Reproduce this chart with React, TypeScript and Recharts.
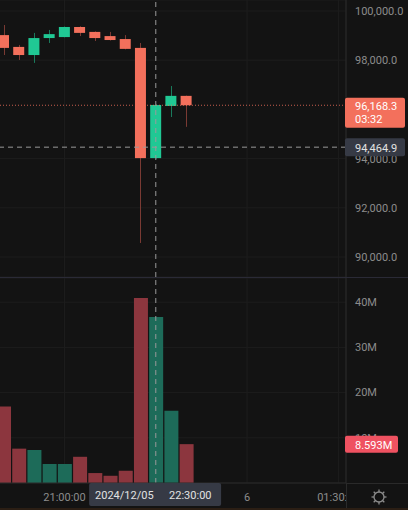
import React from 'react';
import { ComposedChart, Bar, Cell, XAxis, YAxis, CartesianGrid, ReferenceLine } from 'recharts';

// 15 minute candles, 20:00 -> 23:00, then empty slots up to 01:30
const times = [
  '20:00:00', '20:15:00', '20:30:00', '20:45:00', '21:00:00', '21:15:00', '21:30:00', '21:45:00',
  '22:00:00', '22:15:00', '22:30:00', '22:45:00', '23:00:00', '23:15:00', '23:30:00', '23:45:00',
  '00:00:00', '00:15:00', '00:30:00', '00:45:00', '01:00:00', '01:15:00', '01:30:00',
];
const opens = [99020, 98540, 98210, 98900, 98940, 99350, 99150, 98980, 98860, 98500, 94020, 96140, 96550];
const highs = [99430, 98620, 99110, 99230, 99370, 99380, 99170, 99150, 99020, 98700, 96200, 96950, 96560];
const lows = [98210, 98010, 97890, 98700, 98930, 98980, 98780, 98800, 98440, 90570, 94000, 95690, 95290];
const closes = [98500, 98210, 98900, 99060, 99350, 99110, 98900, 98820, 98460, 94020, 96180, 96550, 96168.3];
const volumes = [16.9e6, 7.6e6, 7.3e6, 4.2e6, 4.2e6, 5.8e6, 2.2e6, 1.6e6, 2.7e6, 40.9e6, 36.7e6, 16.0e6, 8.593e6];

// 96,000.0 sits under the last price tag in the reference, so it is left out
const priceTicks = [90000, 92000, 94000, 98000, 100000];
const volumeTicks = [10e6, 20e6, 30e6, 40e6];
const timeTicks = ['21:00:00', '00:00:00', '01:30:00'];

const priceDomain = [89187, 100447];
const volumeDomain = [0, 45.35e6];

const lastPrice = 96168.3;
const crossPrice = 94464.9;
const crossTime = '22:30:00';
const crossDate = '2024/12/05';
const countdown = '03:32';
const lastVolume = 8.593e6;

const BG = '#131313';
const UP = '#20c894';
const DOWN = '#f3705c';
const WICK_UP = '#1a7a5c';
const WICK_DOWN = '#7a3a33';
const VOL_UP = '#1d6b59';
const VOL_DOWN = '#8c363e';
const GRID = '#1d1d1d';
const AXIS = '#2a2a2a';
const TEXT = '#8c8c8c';
const FONT = 'Roboto, "Noto Sans", sans-serif';

const data = times.map((t, i) => ({
  t,
  open: opens[i],
  high: highs[i],
  low: lows[i],
  close: closes[i],
  volume: volumes[i],
}));

const fmtPrice = (v: number) => v.toLocaleString('en-US', { minimumFractionDigits: 1, maximumFractionDigits: 1 });

function Candle(props: any) {
  const { x, y, width, height, payload } = props;
  if (!payload || payload.open == null || height == null) return null;
  const { open, close, high, low } = payload;
  const top = Math.min(y, y + height);
  const h = Math.abs(height);
  const k = h / (high - low);
  const up = close >= open;
  const bodyTop = top + (high - Math.max(open, close)) * k;
  const bodyBot = top + (high - Math.min(open, close)) * k;
  const cx = Math.round(x + width / 2) + 0.5;
  return (
    <g>
      <line x1={cx} x2={cx} y1={top} y2={top + h} stroke={up ? WICK_UP : WICK_DOWN} strokeWidth={1} />
      <rect x={x} y={bodyTop} width={width} height={Math.max(1, bodyBot - bodyTop)} fill={up ? UP : DOWN} />
    </g>
  );
}

function AxisTag(props: any) {
  const { viewBox, fill, color, lines, w, h, offsetTop } = props;
  if (!viewBox) return null;
  const ax = viewBox.x + viewBox.width;
  const ly = viewBox.y;
  const top = ly - offsetTop;
  return (
    <g>
      <rect x={ax - 1} y={top} width={w} height={h} rx={2} fill={fill} />
      {lines.map((s: string, i: number) => (
        <text key={i} x={ax + 9} y={ly + 1 + i * 13} fill={color} fontSize={11} fontFamily={FONT} dominantBaseline="central">
          {s}
        </text>
      ))}
    </g>
  );
}

function TimeTag(props: any) {
  const { viewBox } = props;
  if (!viewBox) return null;
  const cx = viewBox.x;
  const bottom = viewBox.y + viewBox.height;
  return (
    <g>
      <rect x={cx - 66} y={bottom} width={132} height={23} rx={2} fill="#363a45" />
      <text x={cx - 60} y={bottom + 12} fill="#e2e2e2" fontSize={11} fontFamily={FONT} dominantBaseline="central">
        {crossDate}
      </text>
      <text x={cx + 14} y={bottom + 12} fill="#e2e2e2" fontSize={11} fontFamily={FONT} dominantBaseline="central">
        {crossTime}
      </text>
    </g>
  );
}

export default function App() {
  const margin = { top: 0, right: 0, bottom: 0, left: 0 };
  return (
    <div style={{ position: 'absolute', left: 0, top: 0, width: 408, height: 510, background: BG, overflow: 'hidden', fontFamily: FONT }}>
      {/* price pane */}
      <div style={{ position: 'absolute', left: -4, top: 0 }}>
        <ComposedChart width={412} height={277} data={data} margin={margin}>
          <CartesianGrid stroke={GRID} />
          <XAxis dataKey="t" hide ticks={timeTicks} />
          <YAxis
            orientation="right"
            width={62}
            domain={priceDomain}
            allowDataOverflow
            ticks={priceTicks}
            tickFormatter={fmtPrice}
            tick={{ fill: TEXT, fontSize: 11, fontFamily: FONT, textAnchor: 'start' }}
            tickLine={false}
            tickMargin={3}
            axisLine={{ stroke: AXIS }}
          />
          <Bar
            dataKey={(d: any) => (d.open == null ? null : [d.low, d.high])}
            barSize={11}
            shape={Candle}
            isAnimationActive={false}
          />
          <ReferenceLine y={lastPrice} stroke={DOWN} strokeOpacity={0.8} strokeDasharray="1 2" />
          <ReferenceLine y={crossPrice} stroke="#9a9a9a" strokeDasharray="5 4" />
          <ReferenceLine x={crossTime} stroke="#9a9a9a" strokeDasharray="5 4" />
        </ComposedChart>
      </div>
      {/* price tags on top of the axis labels */}
      <div style={{ position: 'absolute', left: -4, top: 0 }}>
        <ComposedChart width={412} height={277} data={data} margin={margin}>
          <XAxis dataKey="t" hide />
          <YAxis orientation="right" width={62} domain={priceDomain} allowDataOverflow tick={false} tickLine={false} axisLine={false} />
          <ReferenceLine
            y={lastPrice}
            stroke="none"
            strokeOpacity={0}
            label={<AxisTag fill={DOWN} color="#ffffff" lines={[fmtPrice(lastPrice), countdown]} w={60} h={30} offsetTop={7.5} />}
          />
          <ReferenceLine
            y={crossPrice}
            stroke="none"
            strokeOpacity={0}
            label={<AxisTag fill="#363a45" color="#e2e2e2" lines={[fmtPrice(crossPrice)]} w={60} h={18} offsetTop={9} />}
          />
        </ComposedChart>
      </div>
      <div style={{ position: 'absolute', left: 0, top: 277, width: 408, height: 1, background: '#2a2a36' }} />
      {/* volume pane */}
      <div style={{ position: 'absolute', left: -4, top: 278 }}>
        <ComposedChart width={412} height={232} data={data} margin={margin}>
          <CartesianGrid stroke={GRID} />
          <XAxis
            dataKey="t"
            height={27}
            ticks={timeTicks}
            interval={0}
            tickFormatter={(t: string) => (t === '00:00:00' ? '6' : t)}
            tick={{ fill: TEXT, fontSize: 11, fontFamily: FONT }}
            tickLine={false}
            tickMargin={4}
            axisLine={{ stroke: AXIS }}
          />
          <YAxis
            orientation="right"
            width={62}
            domain={volumeDomain}
            allowDataOverflow
            ticks={volumeTicks}
            tickFormatter={(v: number) => `${v / 1e6}M`}
            tick={{ fill: TEXT, fontSize: 11, fontFamily: FONT, textAnchor: 'start' }}
            tickLine={false}
            tickMargin={3}
            axisLine={{ stroke: AXIS }}
          />
          <Bar dataKey="volume" barSize={14} isAnimationActive={false}>
            {data.map((d, i) => (
              <Cell key={i} fill={d.close != null && d.close >= d.open ? VOL_UP : VOL_DOWN} />
            ))}
          </Bar>
          <ReferenceLine x={crossTime} stroke="#9a9a9a" strokeDasharray="5 4" />
        </ComposedChart>
      </div>
      {/* volume and time tags on top */}
      <div style={{ position: 'absolute', left: -4, top: 278 }}>
        <ComposedChart width={412} height={232} data={data} margin={margin}>
          <XAxis dataKey="t" height={27} tick={false} tickLine={false} axisLine={false} />
          <YAxis orientation="right" width={62} domain={volumeDomain} allowDataOverflow tick={false} tickLine={false} axisLine={false} />
          <ReferenceLine
            y={lastVolume}
            stroke="none"
            strokeOpacity={0}
            label={<AxisTag fill="#ef5261" color="#ffffff" lines={[(lastVolume / 1e6).toFixed(3) + 'M']} w={53} h={17} offsetTop={8.5} />}
          />
          <ReferenceLine x={crossTime} stroke="none" strokeOpacity={0} label={<TimeTag />} />
        </ComposedChart>
      </div>
      <div style={{ position: 'absolute', left: 346, top: 483, width: 62, height: 27, background: BG, borderLeft: `1px solid ${AXIS}`, borderTop: `1px solid ${AXIS}`, boxSizing: 'border-box' }}>
        <svg width={62} height={27} style={{ display: 'block' }}>
          <g transform="translate(32,13)" stroke={TEXT} strokeWidth={1.3} fill="none">
            <circle r={5} />
            {[0, 45, 90, 135, 180, 225, 270, 315].map((a) => (
              <line
                key={a}
                x1={Math.cos((a * Math.PI) / 180) * 5}
                y1={Math.sin((a * Math.PI) / 180) * 5}
                x2={Math.cos((a * Math.PI) / 180) * 7.5}
                y2={Math.sin((a * Math.PI) / 180) * 7.5}
              />
            ))}
          </g>
        </svg>
      </div>
      <div style={{ position: 'absolute', left: 0, top: 508, width: 408, height: 2, background: '#2b1e14' }} />
    </div>
  );
}
